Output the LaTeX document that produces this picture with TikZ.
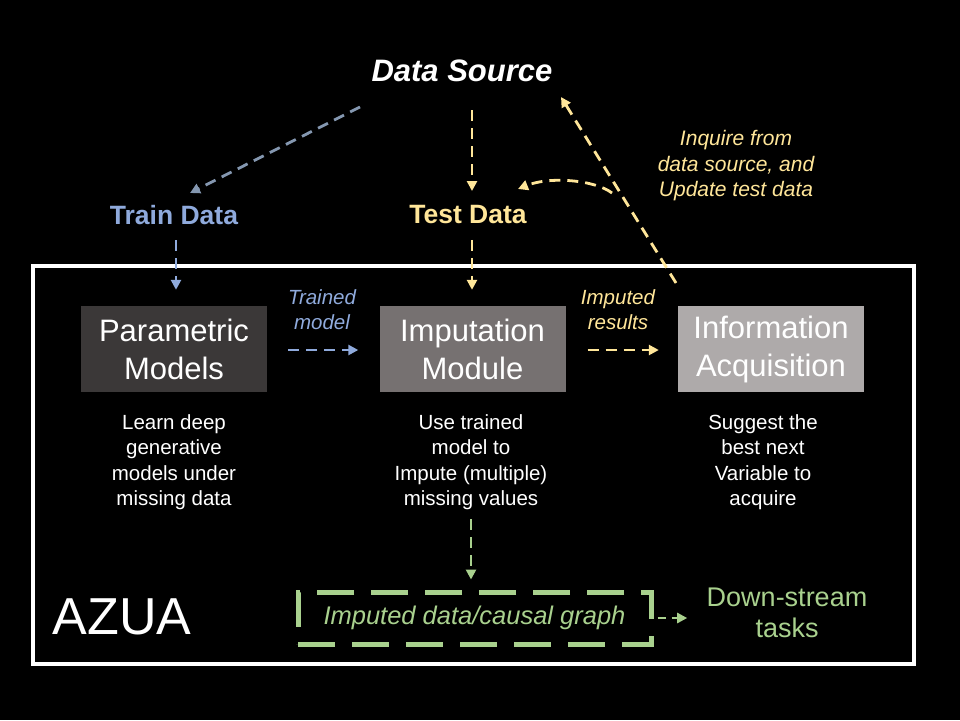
\documentclass[tikz,border=0pt]{standalone}
\usepackage{fontspec}
\setmainfont{Liberation Sans}
\usetikzlibrary{arrows.meta,calc}
\definecolor{tblue}{RGB}{143,170,220}
\definecolor{sblue}{RGB}{132,151,176}
\definecolor{tyel}{RGB}{255,230,153}
\definecolor{tgreen}{RGB}{169,209,142}
\definecolor{boxA}{RGB}{59,56,56}
\definecolor{boxB}{RGB}{118,113,113}
\definecolor{boxC}{RGB}{174,170,170}
\begin{document}
\begin{tikzpicture}[x=1pt,y=-1pt,
  conn/.style={line width=2.8pt, dash pattern=on 11pt off 7pt, -{Triangle[length=10pt,width=10pt]}},
  modbox/.style={fill=#1, minimum width=186pt, minimum height=86pt, text=white,
     font=\fontsize{31}{38}\selectfont, align=center, inner sep=0pt},
  desc/.style={text=white, font=\fontsize{20.5}{25.5}\selectfont, align=center},
  lbl/.style={font=\itshape\fontsize{20.5}{25}\selectfont, align=center}]
\fill[black] (0,0) rectangle (960,720);
\useasboundingbox (0,0) rectangle (960,720);

% top labels
\node[text=white, font=\bfseries\itshape\fontsize{31}{36}\selectfont] (ds) at (462,71) {Data Source};
\node[text=tblue, font=\bfseries\fontsize{26.5}{31}\selectfont] (train) at (174,215) {Train Data};
\node[text=tyel, font=\bfseries\fontsize{26.5}{31}\selectfont] (test) at (468,215) {Test Data};
\node[lbl, text=tyel, font=\itshape\fontsize{21}{25.5}\selectfont] (inq) at (736,166) {Inquire from\\data source, and\\Update test data};

% frame
\node[draw=white, line width=3.2pt, minimum width=881pt, minimum height=398pt, inner sep=0pt] (frame) at (473.5,465) {};

% modules
\node[modbox=boxA] (param) at (174,349) {Parametric\\Models};
\node[modbox=boxB] (imput) at (472.5,349) {Imputation\\Module};
\node[modbox=boxC] (info) at (771,349) {Information\\Acquisition};

\node[lbl, text=tblue] (trl) at (322,310) {Trained\\model};
\node[lbl, text=tyel] (iml) at (618,310) {Imputed\\results};

% descriptions
\node[desc] (d1) at (174,462) {Learn deep\\generative\\models under\\missing data};
\node[desc] (d2) at (471,462) {Use trained\\model to\\Impute (multiple)\\missing values};
\node[desc] (d3) at (763,462) {Suggest the\\best next\\Variable to\\acquire};

% bottom
\node[draw=tgreen, line width=5pt, dash pattern=on 37pt off 17pt, minimum width=353pt, minimum height=52pt,
      text=tgreen, font=\itshape\fontsize{25.5}{30}\selectfont] (graph) at (474.5,618) {Imputed data/causal graph};
\node[text=tgreen, font=\fontsize{27}{31}\selectfont, align=center] (down) at (787,613) {Down-stream\\tasks};
\node[text=white, font=\fontsize{52}{60}\selectfont] (azua) at (122,617) {AZUA};

% connector end points
\coordinate (a1) at (360,107);
\coordinate (a2) at (190,193);
\coordinate (b1) at (472,110);
\coordinate (b2) at (472,191);
\coordinate (c1) at (676,283);
\coordinate (c2) at (561,97);
\coordinate (e1) at (612,193);
\coordinate (e2) at (518,189);

\draw[conn, sblue] (a1) -- (a2);
\draw[conn, tyel] (b1) -- (b2);
\draw[conn, tyel] (c1) -- (c2);
\draw[conn, tyel] (e1) .. controls (595,180) and (550,176) .. (e2);

\draw[conn, tblue] ($(train.south)+(2,12)$) -- ($(param.north)+(2,-16)$);
\draw[conn, tyel] ($(test.south)+(4,12)$) -- ($(imput.north)+(-0.5,-16)$);
\draw[conn, tblue] ($(param.east)+(21,1)$) -- ($(imput.west)+(-21,1)$);
\draw[conn, tyel] ($(imput.east)+(22,1)$) -- ($(info.west)+(-19,1)$);
\draw[conn, tgreen] ($(d2.south)+(0,6)$) -- ($(graph.north)+(-3.5,-10)$);
\draw[conn, tgreen, dash pattern=on 8pt off 6pt] ($(graph.east)+(4,0)$) -- ($(down.west)+(-16,5)$);
\end{tikzpicture}
\end{document}
